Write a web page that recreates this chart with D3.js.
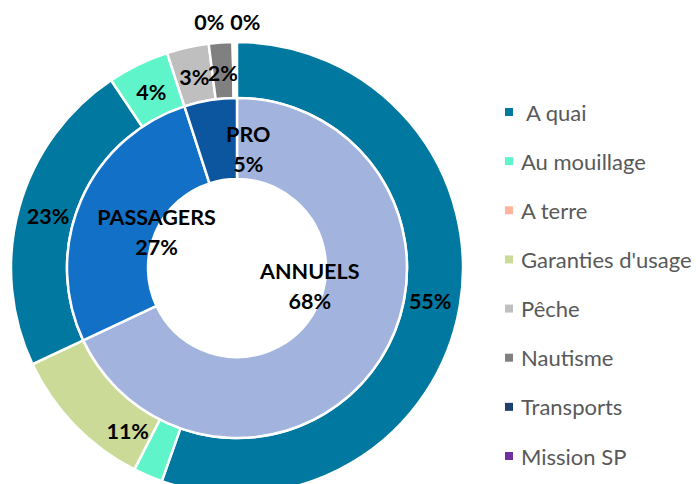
<!DOCTYPE html>
<html><head><meta charset="utf-8">
<script src="https://cdn.jsdelivr.net/npm/d3@7"></script>
<style>
html,body{margin:0;padding:0;background:#fff;}
svg{display:block;}
</style></head>
<body>
<svg id="chart" width="696" height="484"></svg>
<script>
// ---- data ----
const innerCategories = ["ANNUELS", "PASSAGERS", "PRO"];
const innerValues = [68, 27, 5];
const innerColors = ["#A2B4DD", "#1270C6", "#0C56A0"];

const outerParents = ["ANNUELS","ANNUELS","ANNUELS","PASSAGERS","PASSAGERS","PRO","PRO","PRO","PRO"];
const outerCategories = ["A quai","Au mouillage","Garanties d'usage","A quai","Au mouillage","Pêche","Nautisme","Transports","Mission SP"];
const outerValues = [55.4, 2.1, 10.5, 22.6, 4.4, 3.0, 1.7, 0, 0];
const outerShowLabel = [true, false, true, true, true, true, true, true, true];

const legendLabels = [" A quai", "Au mouillage", "A terre", "Garanties d'usage", "Pêche", "Nautisme", "Transports", "Mission SP"];
const legendColors = ["#00789F", "#60F4CA", "#FDB49B", "#CBDA96", "#BFBFBF", "#808080", "#1F3F6E", "#7030A0"];

// ---- layout ----
const svg = d3.select("#chart");
const cx = 237, cy = 268;
const rHole = 89, rMid = 170, rOut = 226;
const colorOf = d3.scaleOrdinal().domain(legendLabels.map(s => s.trim())).range(legendColors);
const angle = d3.scaleLinear().domain([0, 100]).range([0, 2 * Math.PI]);

const g = svg.append("g").attr("transform", `translate(${cx},${cy})`);

function cumulate(values) {
  let acc = 0;
  return values.map(v => { const s = acc; acc += v; return {start: s, end: acc, value: v}; });
}

const innerData = cumulate(innerValues).map((d, i) => ({...d, name: innerCategories[i], color: innerColors[i]}));
const outerData = cumulate(outerValues).map((d, i) => ({...d, name: outerCategories[i], parent: outerParents[i], show: outerShowLabel[i]}));

const innerArc = d3.arc().innerRadius(rHole).outerRadius(rMid)
  .startAngle(d => angle(d.start)).endAngle(d => angle(d.end));
const outerArc = d3.arc().innerRadius(rMid).outerRadius(rOut)
  .startAngle(d => angle(d.start)).endAngle(d => angle(d.end));

g.selectAll("path.outer").data(outerData).join("path")
  .attr("class", "outer")
  .attr("d", outerArc)
  .attr("fill", d => colorOf(d.name))
  .attr("stroke", "#fff").attr("stroke-width", 2.5).attr("stroke-linejoin", "miter");

g.selectAll("path.inner").data(innerData).join("path")
  .attr("class", "inner")
  .attr("d", innerArc)
  .attr("fill", d => d.color)
  .attr("stroke", "#fff").attr("stroke-width", 2.5);

const labelFont = "Lato, 'Open Sans', sans-serif";
const labelSize = 21.5;

// outer labels
const outerLabelArc = d3.arc().innerRadius(168).outerRadius(224);
const angleShift = {2: -12};
const zeroOffsets = [-23, 13];
let zeroCount = 0;
outerData.forEach((d, i) => {
  if (!d.show) return;
  let x, y;
  if (d.value === 0) {
    const a = angle(d.end);
    x = Math.sin(a) * 246 + zeroOffsets[zeroCount++];
    y = -Math.cos(a) * 246;
  } else {
    const sh = (angleShift[i] || 0) * Math.PI / 180;
    [x, y] = outerLabelArc.centroid({startAngle: angle(d.start) + sh, endAngle: angle(d.end) + sh});
  }
  g.append("text")
    .attr("x", x).attr("y", y)
    .attr("text-anchor", "middle").attr("dominant-baseline", "central")
    .attr("font-family", labelFont).attr("font-weight", 700).attr("font-size", labelSize)
    .attr("fill", "#000")
    .text(Math.round(d.value) + "%");
});

// inner labels (polar placement: degrees, radius)
const innerLabelPolar = [[104, 75], [294, 88], [5.4, 119.5]];
innerData.forEach((d, i) => {
  const a = innerLabelPolar[i][0] * Math.PI / 180, r = innerLabelPolar[i][1];
  const x = Math.sin(a) * r, y = -Math.cos(a) * r;
  const t = g.append("text")
    .attr("text-anchor", "middle")
    .attr("font-family", labelFont).attr("font-weight", 700).attr("font-size", labelSize)
    .attr("fill", "#000");
  t.append("tspan").attr("x", x).attr("y", y - 15).attr("dominant-baseline", "central").text(d.name);
  t.append("tspan").attr("x", x).attr("y", y + 15).attr("dominant-baseline", "central").text(Math.round(d.value) + "%");
});

// legend
const ly = d3.scaleLinear().domain([0, legendLabels.length - 1]).range([112, 456]);
const leg = svg.append("g");
legendLabels.forEach((lab, i) => {
  leg.append("rect")
    .attr("x", 505).attr("y", ly(i) - 4).attr("width", 8).attr("height", 8)
    .attr("fill", legendColors[i]);
  leg.append("text")
    .attr("x", 521).attr("y", ly(i))
    .attr("dominant-baseline", "central")
    .attr("font-family", labelFont).attr("font-size", 22)
    .attr("fill", "#595959")
    .style("white-space", "pre")
    .text(lab);
});
</script>
</body></html>
